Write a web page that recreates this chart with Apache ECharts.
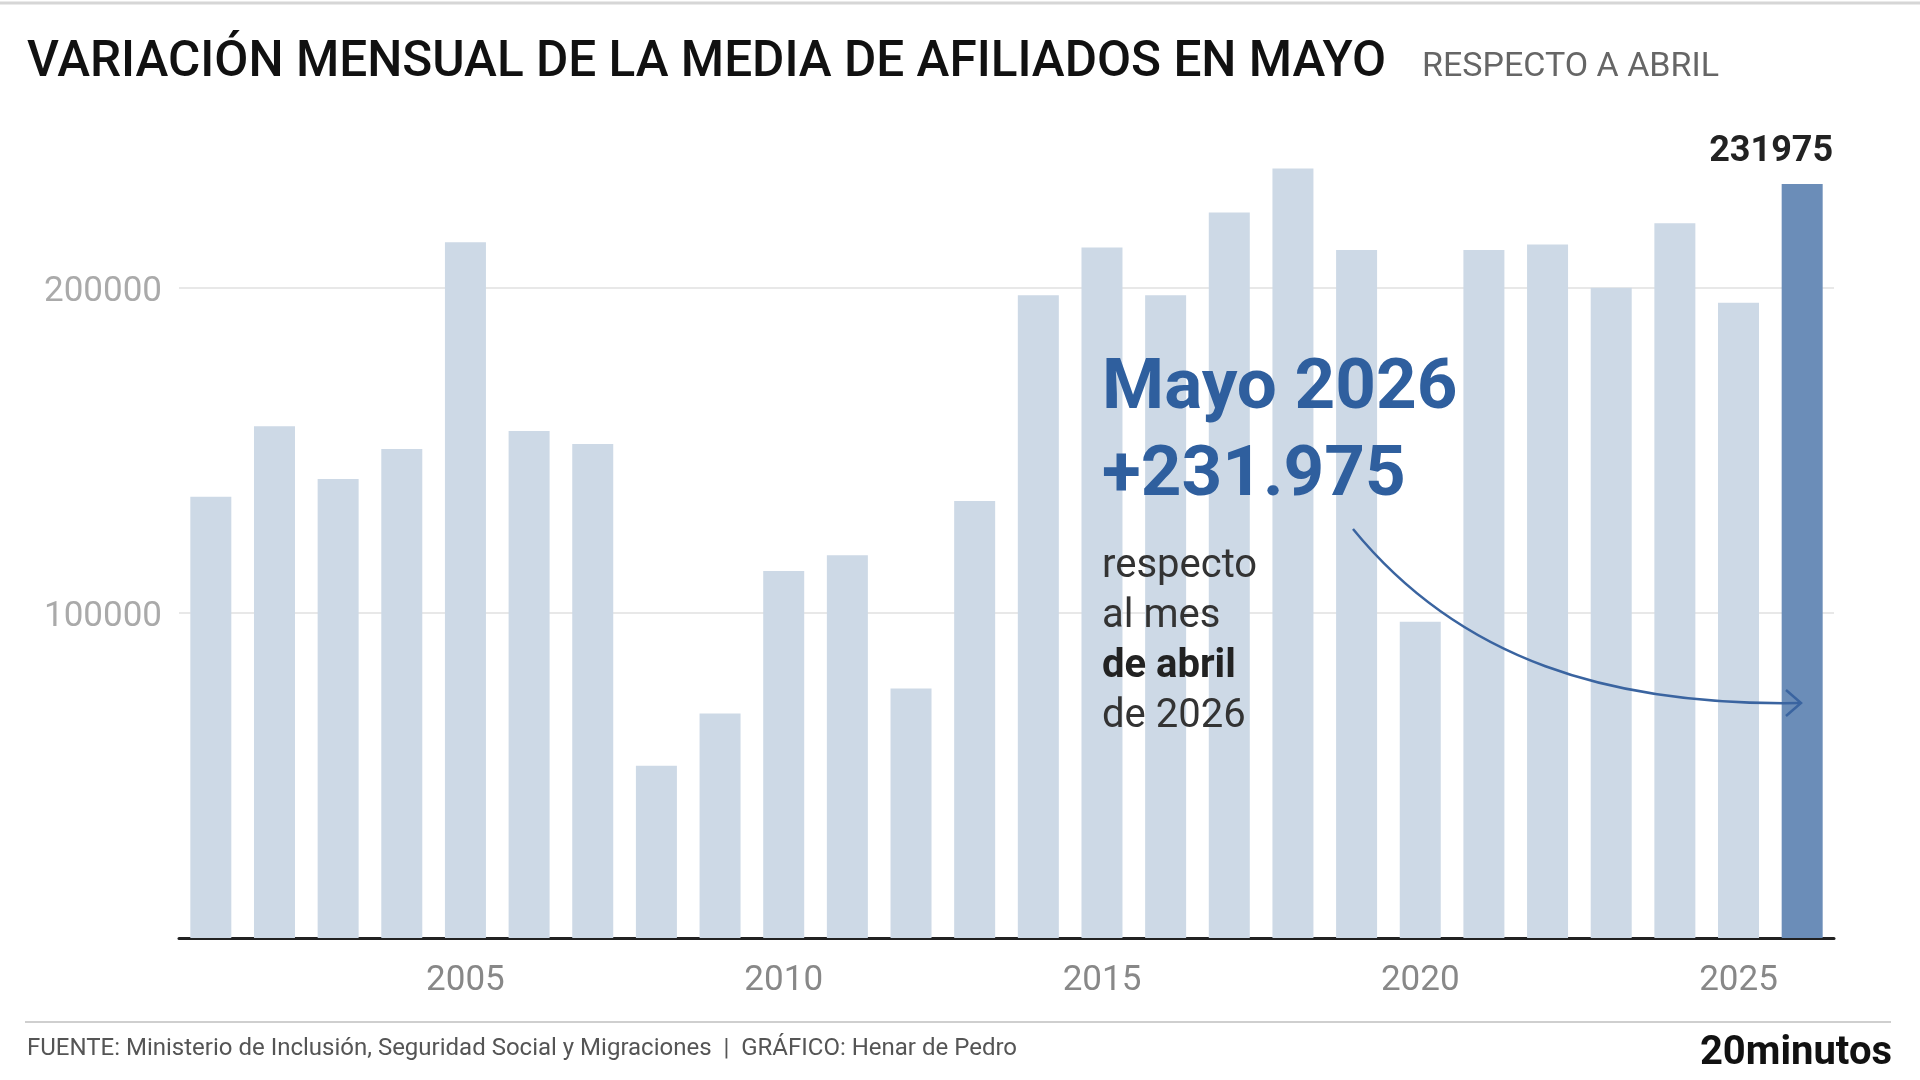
<!DOCTYPE html>
<html>
<head>
<meta charset="utf-8">
<script src="https://cdn.jsdelivr.net/npm/echarts@6/dist/echarts.min.js"></script>
<style>
  html, body { margin: 0; padding: 0; background: #fff; }
  #chart { width: 1920px; height: 1080px; }
</style>
</head>
<body>
<div id="chart"></div>
<script>
// años (mayo de cada año)
const years = ['2001','2002','2003','2004','2005','2006','2007','2008','2009','2010',
  '2011','2012','2013','2014','2015','2016','2017','2018','2019','2020',
  '2021','2022','2023','2024','2025','2026'];
// variación de la media de afiliados respecto a abril
const values = [135800, 157500, 141200, 150500, 214100, 156000, 152000, 53000, 69100, 112900,
  117800, 76800, 134500, 197800, 212500, 197800, 223200, 236800, 211700, 97300,
  211700, 213400, 200100, 219900, 195500, 231975];
const highlightYear = '2026';
const yTicks = [100000, 200000];
const xLabelYears = ['2005','2010','2015','2020','2025'];

const FONT = 'Roboto';
const BLUE = '#2f5f9e';

const chart = echarts.init(document.getElementById('chart'));

// textos encima de las barras
const txt = (x, y, text, font, fill, extra) => ({
  type: 'text', x: x, y: y, z: 100,
  style: Object.assign({ text: text, font: font, fill: fill, verticalAlign: 'middle' }, extra || {})
});

const option = {
  backgroundColor: '#fff',
  animation: false,
  grid: { left: 179, right: 86, top: 158, bottom: 142 },
  xAxis: {
    type: 'category',
    data: years,
    axisLine: { lineStyle: { color: '#222', width: 3 } },
    axisTick: { show: false },
    axisLabel: {
      interval: (i, v) => xLabelYears.indexOf(v) >= 0,
      color: '#888',
      fontFamily: FONT,
      fontSize: 35,
      margin: 26
    }
  },
  yAxis: {
    type: 'value',
    min: 0,
    max: 240000,
    interval: 100000,
    axisLine: { show: false },
    axisTick: { show: false },
    axisLabel: {
      margin: 17,
      formatter: v => (yTicks.indexOf(v) >= 0 ? '{v|' + v + '}' : ''),
      rich: {
        v: { color: '#aaa', fontFamily: FONT, fontSize: 35, padding: [9, 0, 0, 0] }
      }
    },
    splitLine: {
      showMinLine: false,
      showMaxLine: false,
      lineStyle: { color: '#e8e8e8', width: 2 }
    }
  },
  series: [{
    type: 'bar',
    barWidth: 41,
    data: values.map((v, i) => {
      if (years[i] !== highlightYear) return { value: v, itemStyle: { color: '#cdd9e6' } };
      return {
        value: v,
        itemStyle: { color: '#6b8db8' },
        label: {
          show: true,
          position: 'top',
          distance: 14,
          offset: [-31, 0],
          color: '#222',
          fontFamily: FONT,
          fontWeight: 'bold',
          fontSize: 36
        }
      };
    })
  }],
  graphic: [
    // líneas de cabecera y pie
    { type: 'line', z: 100, shape: { x1: 0, y1: 3, x2: 1920, y2: 3 }, style: { stroke: '#d6d6d6', lineWidth: 3 } },
    { type: 'line', z: 100, shape: { x1: 25, y1: 1022, x2: 1891, y2: 1022 }, style: { stroke: '#cfcfcf', lineWidth: 2 } },
    // título
    txt(27, 64, 'VARIACIÓN MENSUAL DE LA MEDIA DE AFILIADOS EN MAYO', '500 49.5px Roboto', '#111'),
    txt(1422, 67, 'RESPECTO A ABRIL', '34px Roboto', '#666'),
    // fuente
    txt(27, 1049, 'FUENTE: Ministerio de Inclusión, Seguridad Social y Migraciones  |  GRÁFICO: Henar de Pedro', '24px Roboto', '#555'),
    txt(1892, 1054, '20minutos', 'bold 40px Roboto', '#111', { align: 'right' }),
    // anotación
    txt(1102, 390, 'Mayo 2026', 'bold 71px Roboto', BLUE),
    txt(1102, 477, '+231.975', 'bold 71px Roboto', BLUE),
    txt(1102, 567, 'respecto', '40px Roboto', '#333'),
    txt(1102, 617, 'al mes', '40px Roboto', '#333'),
    txt(1102, 667, 'de abril', 'bold 40px Roboto', '#222'),
    txt(1102, 717, 'de 2026', '40px Roboto', '#333'),
    // flecha
    { type: 'bezierCurve', z: 100,
      shape: { x1: 1353, y1: 529, cpx1: 1460, cpy1: 660, cpx2: 1610, cpy2: 706, x2: 1800, y2: 703 },
      style: { stroke: '#3a64a0', lineWidth: 2.5, fill: null } },
    { type: 'polyline', z: 100, shape: { points: [[1786, 690], [1801, 703], [1786, 716]] },
      style: { stroke: '#3a64a0', lineWidth: 2.5, fill: null } }
  ]
};

chart.setOption(option);
</script>
</body>
</html>
